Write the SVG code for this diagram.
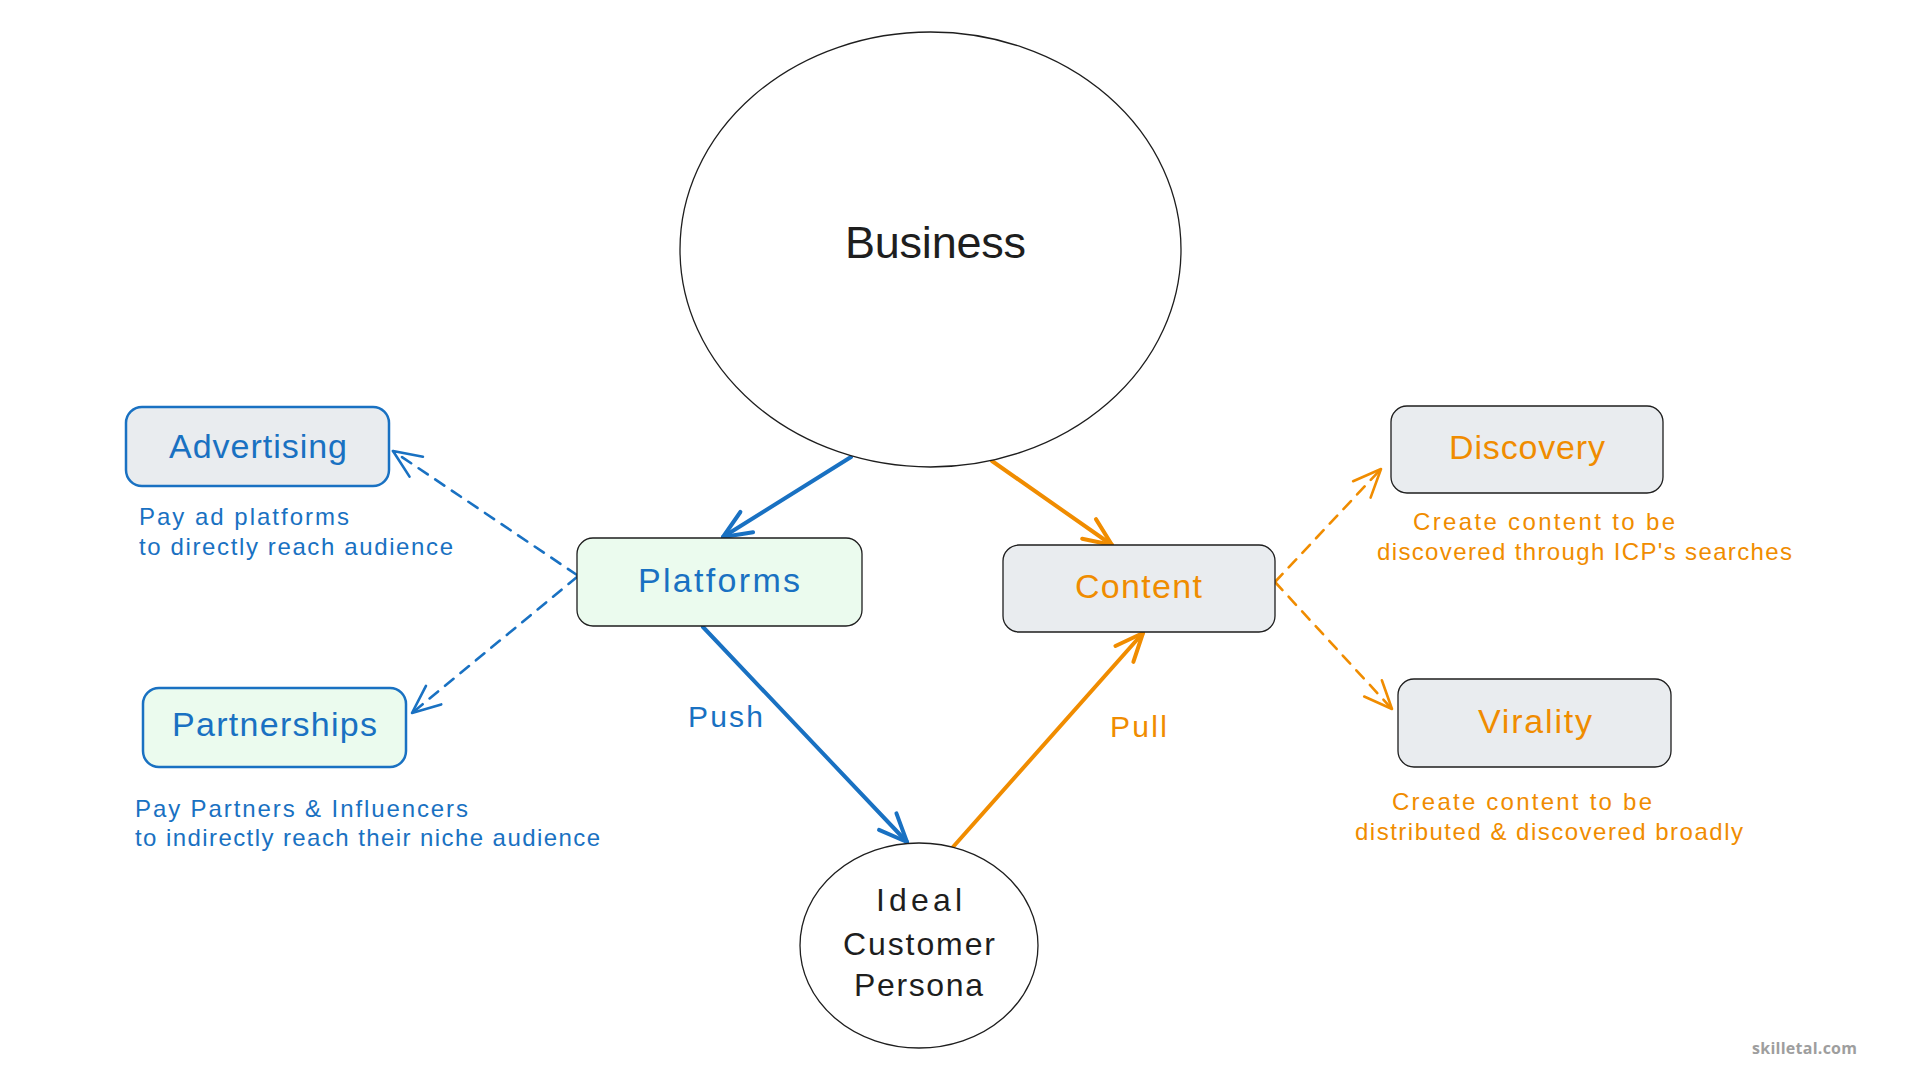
<svg xmlns="http://www.w3.org/2000/svg" width="1920" height="1080" viewBox="0 0 1920 1080">
  <style>
    .hand { font-family: "Liberation Sans", "DejaVu Sans", sans-serif; }
    .desc { font-size: 24px; }
    .ink { fill: #1e1e1e; }
    .blue { fill: #1971c2; }
    .orange { fill: #f08c00; }
    .ell { fill: #ffffff; stroke: #1e1e1e; stroke-width: 1.3; }
    .box-gray { fill: #e9ecef; stroke: #1e1e1e; stroke-width: 1.3; }
    .box-green { fill: #ebfbee; stroke: #1e1e1e; stroke-width: 1.3; }
    .box-blue-gray { fill: #e9ecef; stroke: #1971c2; stroke-width: 2.5; }
    .box-blue-green { fill: #ebfbee; stroke: #1971c2; stroke-width: 2.5; }
    .conn { fill: none; stroke-linecap: round; stroke-linejoin: round; }
    .solid-b { stroke: #1971c2; stroke-width: 4; marker-end: url(#ah-blue); }
    .solid-o { stroke: #f08c00; stroke-width: 4; marker-end: url(#ah-orange); }
    .dash-b { stroke: #1971c2; stroke-width: 2.6; stroke-dasharray: 11 9; marker-end: url(#ahd-blue); }
    .dash-o { stroke: #f08c00; stroke-width: 2.6; stroke-dasharray: 11 9; marker-end: url(#ahd-orange); }
  </style>
  <defs>
    <marker id="ah-blue" markerUnits="userSpaceOnUse" markerWidth="40" markerHeight="40" refX="36" refY="20" orient="auto" overflow="visible">
      <path d="M8,8 L36,20 L8,32" fill="none" stroke="#1971c2" stroke-width="4" stroke-linecap="round" stroke-linejoin="round"/>
    </marker>
    <marker id="ah-orange" markerUnits="userSpaceOnUse" markerWidth="40" markerHeight="40" refX="36" refY="20" orient="auto" overflow="visible">
      <path d="M8,8 L36,20 L8,32" fill="none" stroke="#f08c00" stroke-width="4" stroke-linecap="round" stroke-linejoin="round"/>
    </marker>
    <marker id="ahd-blue" markerUnits="userSpaceOnUse" markerWidth="40" markerHeight="40" refX="36" refY="20" orient="auto" overflow="visible">
      <path d="M8,8 L36,20 L8,32" fill="none" stroke="#1971c2" stroke-width="2.6" stroke-linecap="round" stroke-linejoin="round"/>
    </marker>
    <marker id="ahd-orange" markerUnits="userSpaceOnUse" markerWidth="40" markerHeight="40" refX="36" refY="20" orient="auto" overflow="visible">
      <path d="M8,8 L36,20 L8,32" fill="none" stroke="#f08c00" stroke-width="2.6" stroke-linecap="round" stroke-linejoin="round"/>
    </marker>
  </defs>

  <rect x="0" y="0" width="1920" height="1080" fill="#ffffff"/>

  <g id="connectors" class="conn">
    <path class="solid-b" d="M851,457 L723,537"/>
    <path class="solid-o" d="M992,461 L1112,545"/>
    <path class="solid-b" d="M703,627 L907,842"/>
    <path class="solid-o" d="M953,847 L1143,633"/>
    <path class="dash-b" d="M577,575 L393,451"/>
    <path class="dash-b" d="M577,577 L412,713"/>
    <path class="dash-o" d="M1275,582 L1381,469"/>
    <path class="dash-o" d="M1275,582 L1392,709"/>
  </g>

  <g id="connector-labels" class="hand">
    <text class="blue" x="688" y="727" font-size="30" textLength="75">Push</text>
    <text class="orange" x="1110" y="737" font-size="30" textLength="57">Pull</text>
  </g>

  <g id="business">
    <ellipse class="ell" cx="930.5" cy="249.5" rx="250.5" ry="217.5"/>
    <text class="hand ink" x="845" y="258" font-size="45" textLength="181">Business</text>
  </g>

  <g id="platforms">
    <rect class="box-green" x="577" y="538" width="285" height="88" rx="16"/>
    <text class="hand blue" x="638" y="592" font-size="34" textLength="162">Platforms</text>
  </g>

  <g id="content">
    <rect class="box-gray" x="1003" y="545" width="272" height="87" rx="16"/>
    <text class="hand orange" x="1075" y="598" font-size="34" textLength="127">Content</text>
  </g>

  <g id="icp">
    <ellipse class="ell" cx="919" cy="945.5" rx="119" ry="102.5"/>
    <text class="hand ink" x="876" y="911" font-size="32" textLength="86">Ideal</text>
    <text class="hand ink" x="843" y="955" font-size="32" textLength="152">Customer</text>
    <text class="hand ink" x="854" y="996" font-size="32" textLength="129">Persona</text>
  </g>

  <g id="advertising">
    <rect class="box-blue-gray" x="126" y="407" width="263" height="79" rx="16"/>
    <text class="hand blue" x="169" y="458" font-size="34" textLength="178">Advertising</text>
    <text class="hand blue desc" x="139" y="525" textLength="210">Pay ad platforms</text>
    <text class="hand blue desc" x="139" y="555" textLength="314">to directly reach audience</text>
  </g>

  <g id="partnerships">
    <rect class="box-blue-green" x="143" y="688" width="263" height="79" rx="16"/>
    <text class="hand blue" x="172" y="736" font-size="34" textLength="205">Partnerships</text>
    <text class="hand blue desc" x="135" y="817" textLength="333">Pay Partners &amp; Influencers</text>
    <text class="hand blue desc" x="135" y="846" textLength="465">to indirectly reach their niche audience</text>
  </g>

  <g id="discovery">
    <rect class="box-gray" x="1391" y="406" width="272" height="87" rx="16"/>
    <text class="hand orange" x="1449" y="459" font-size="34" textLength="156">Discovery</text>
    <text class="hand orange desc" x="1413" y="530" textLength="262">Create content to be</text>
    <text class="hand orange desc" x="1377" y="560" textLength="415">discovered through ICP's searches</text>
  </g>

  <g id="virality">
    <rect class="box-gray" x="1398" y="679" width="273" height="88" rx="16"/>
    <text class="hand orange" x="1478" y="733" font-size="34" textLength="114">Virality</text>
    <text class="hand orange desc" x="1392" y="810" textLength="260">Create content to be</text>
    <text class="hand orange desc" x="1355" y="840" textLength="388">distributed &amp; discovered broadly</text>
  </g>

  <text x="1752" y="1054" font-family="'Open Sans', 'Liberation Sans', sans-serif" font-weight="bold" font-size="16" fill="#9e9e9e" textLength="105">skilletal.com</text>
</svg>
